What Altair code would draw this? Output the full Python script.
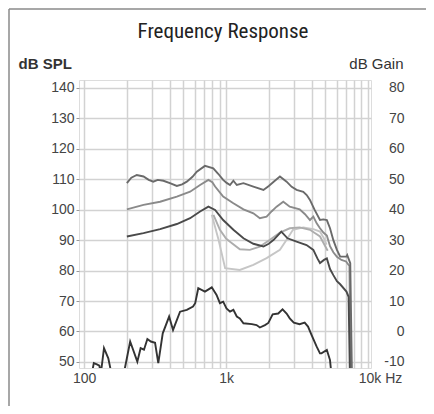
import altair as alt
import pandas as pd

# ---- data ----
freq_top = [200, 215, 235, 262, 285, 307, 330, 362, 402, 450, 490, 529, 580, 622, 710, 813, 880, 954,
            1010, 1066, 1126, 1190, 1326, 1557, 1834, 2000, 2165, 2396, 2670, 2900, 3140, 3499, 3700,
            3900, 4200, 4590, 4850, 5130, 5400, 5700, 6040, 6370, 6700, 7050, 7140, 7500, 7800]
spl_top = [108.7, 110.5, 111.4, 110.9, 109.8, 109.2, 109.8, 109.5, 108.7, 107.8, 108.3, 109.2, 110.8,
           112.5, 114.4, 113.6, 111.8, 109.8, 108.8, 108.1, 109.5, 108.1, 108.7, 107.6, 106.5, 107.8,
           109.2, 110.9, 109.2, 107.5, 106.5, 105.9, 104.8, 103.2, 100.0, 96.6, 96.8, 96.6, 93.9, 90.0,
           86.8, 84.6, 84.6, 84.6, 85.1, 82.4, 30.0]

freq_mid = [200, 262, 343, 450, 558, 656, 751, 800, 837, 954, 1126, 1326, 1557, 1730, 1930, 2100,
            2270, 2530, 2810, 3300, 3600, 3900, 4120, 4350, 4590, 4850, 5130, 5400, 5700, 6040, 6500,
            7000, 7400, 7620]
spl_mid = [100.1, 101.6, 102.6, 104.3, 105.9, 108.1, 109.8, 109.0, 107.6, 104.3, 102.1, 100.1, 98.8,
           97.2, 97.7, 99.5, 101.0, 102.6, 101.0, 100.1, 98.5, 96.6, 97.7, 95.5, 93.9, 92.5, 91.5,
           88.0, 86.0, 84.5, 83.5, 83.0, 81.5, 30.0]

freq_low = [200, 262, 343, 450, 558, 656, 751, 837, 954, 1126, 1326, 1557, 1834, 2000, 2165, 2450,
            2710, 3140, 3690, 4120, 4400, 4590, 4900, 5130, 5400, 5700, 6040, 6370, 7050, 7300, 7550]
spl_low = [91.2, 92.3, 93.6, 95.3, 97.2, 99.4, 101.0, 99.9, 96.6, 93.4, 90.6, 88.8, 87.9, 88.8, 90.1,
           92.8, 90.6, 89.5, 88.4, 86.8, 84.0, 82.5, 83.5, 84.0, 80.5, 78.5, 76.5, 75.5, 73.1, 71.4, 30.0]

freq_lightA = [815, 905, 1000, 1066, 1250, 1470, 1730, 2040, 2396, 2810, 3300, 3900, 4590, 5000, 5200]
spl_lightA = [98.3, 93.4, 90.5, 89.5, 87.0, 86.8, 87.9, 90.1, 92.5, 93.9, 94.2, 93.4, 91.2, 88.0, 86.5]

freq_lightB = [793, 885, 985, 1250, 1557, 1930, 2396, 2670, 2960, 3500, 4120, 4590, 4900, 5100]
spl_lightB = [98.3, 90.1, 80.8, 80.2, 81.9, 84.1, 86.8, 90.1, 93.4, 94.2, 93.6, 92.8, 90.5, 88.5]

freq_bot = [112, 117, 123, 128, 131, 138, 148, 156, 190, 211, 237, 250, 264, 279, 295, 316, 333, 358,
            397, 423, 474, 529, 585, 606, 637, 710, 793, 857, 905, 954, 1007, 1066, 1126, 1190, 1250,
            1326, 1520, 1640, 1730, 1880, 1985, 2130, 2330, 2500, 2670, 2810, 3000, 3300, 3580, 3780,
            4000, 4350, 4590, 4700, 5130, 5400, 5550]
spl_bot = [45.0, 49.6, 49.2, 48.8, 46.0, 54.5, 51.2, 46.0, 46.0, 56.7, 50.1, 54.5, 54.0, 57.5, 56.7,
           56.3, 49.6, 59.4, 64.9, 60.5, 66.5, 67.1, 68.2, 69.3, 74.2, 73.1, 74.5, 72.0, 69.3, 69.8,
           67.6, 66.5, 67.1, 64.9, 64.3, 62.7, 62.4, 62.1, 61.3, 62.1, 62.8, 65.6, 65.9, 67.3, 65.9,
           64.3, 62.9, 62.4, 62.9, 61.6, 58.9, 55.0, 52.8, 52.8, 53.9, 50.6, 45.0]

series_names = ["lightB", "lightA", "mid", "top", "low", "bot"]
series_colors = ["#c6c6c6", "#adadad", "#8a8a8a", "#6a6a6a", "#4a4a4a", "#333333"]
series_data = {
    "top": (freq_top, spl_top),
    "mid": (freq_mid, spl_mid),
    "low": (freq_low, spl_low),
    "lightA": (freq_lightA, spl_lightA),
    "lightB": (freq_lightB, spl_lightB),
    "bot": (freq_bot, spl_bot),
}

x_grid_values = [100, 200, 300, 400, 500, 600, 700, 800, 900,
                 1000, 2000, 3000, 4000, 5000, 6000, 7000, 8000, 9000, 10000]
y_values = [50, 60, 70, 80, 90, 100, 110, 120, 130, 140]
title_text = ["Frequency Response"]

rows = []
for name in series_names:
    fs, vs = series_data[name]
    for f, v in zip(fs, vs):
        rows.append({"series": name, "freq": f, "spl": v})
df = pd.DataFrame(rows)

FONT = "Liberation Sans"
TITLE_FONT = "Liberation Sans Narrow, Roboto Condensed, DejaVu Sans Condensed, Roboto, sans-serif"
x_scale = alt.Scale(type="log", domain=[92, 10500], nice=False)
y_scale = alt.Scale(domain=[48, 142.6], nice=False, zero=False)

x_enc = alt.X(
    "freq:Q", scale=x_scale,
    axis=alt.Axis(
        values=x_grid_values, title=None, ticks=False, domain=False,
        labelExpr="datum.value==100?'100':datum.value==1000?'1k':datum.value==10000?'10k Hz':''",
        labelOffset={"condition": {"test": "datum.value==10000", "value": 12}, "value": 0},
        labelFont=FONT, labelFontSize=14, labelColor="#444444", labelPadding=3,
        grid=True, gridColor="#d2d2d2", gridWidth=1.5, labelFlush=False, labelOverlap=False,
    ),
)

left_axis = alt.Axis(
    values=y_values, title="dB SPL", titleAngle=0, titleAlign="left", titleX=-61, titleY=-17,
    titleBaseline="middle", titleFont=FONT, titleFontSize=15, titleFontWeight="bold",
    titleColor="#333333", labelFont=FONT, labelFontSize=14, labelColor="#444444",
    tickSize=3, tickColor="#999999", labelPadding=2, domain=False,
    grid=True, gridColor="#d2d2d2", gridWidth=1.5,
)
right_axis = alt.Axis(
    orient="right", values=y_values, labelExpr="datum.value - 60", title="dB Gain",
    titleAngle=0, titleAlign="right", titleX=32, titleY=-17, titleBaseline="middle",
    titleFont=FONT, titleFontSize=15, titleFontWeight="normal", titleColor="#333333",
    labelFont=FONT, labelFontSize=14, labelColor="#444444", labelAlign="right",
    ticks=False, labelPadding=33, domain=False, grid=False,
)

lines = alt.Chart(df).mark_line(strokeWidth=1.9, clip=True).encode(
    x=x_enc,
    y=alt.Y("spl:Q", scale=y_scale, axis=left_axis),
    color=alt.Color("series:N", scale=alt.Scale(domain=series_names, range=series_colors), legend=None),
)
right = alt.Chart(df).mark_line(opacity=0).encode(
    x=x_enc,
    y=alt.Y("spl:Q", scale=y_scale, axis=right_axis),
    detail="series:N",
)

title_layer = alt.Chart(alt.Data(values=[{"t": t} for t in title_text])).mark_text(
    font=TITLE_FONT, fontSize=21, color="#222222", align="center",
    baseline="alphabetic").encode(x=alt.value(144), y=alt.value(-42), text="t:N")

frame_src = alt.Data(values=[{}])
frame_top = alt.Chart(frame_src).mark_rule(color="#8a8a8a", strokeWidth=1.5).encode(
    x=alt.value(-70), x2=alt.value(360), y=alt.value(-71))
frame_left = alt.Chart(frame_src).mark_rule(color="#8a8a8a", strokeWidth=1.5).encode(
    x=alt.value(-70), y=alt.value(-71), y2=alt.value(330))

chart = alt.layer(lines, right, title_layer, frame_top, frame_left).resolve_scale(
    y="shared").resolve_axis(y="independent").properties(
    width=292, height=288,
    autosize=alt.AutoSizeParams(type="none"),
    padding={"left": 71, "top": 72, "right": 55, "bottom": 38},
).configure_view(stroke="#7a7a7a", strokeWidth=1.5).configure(background="white")

chart.save("out.html", embed_options={"renderer": "svg", "actions": False})
